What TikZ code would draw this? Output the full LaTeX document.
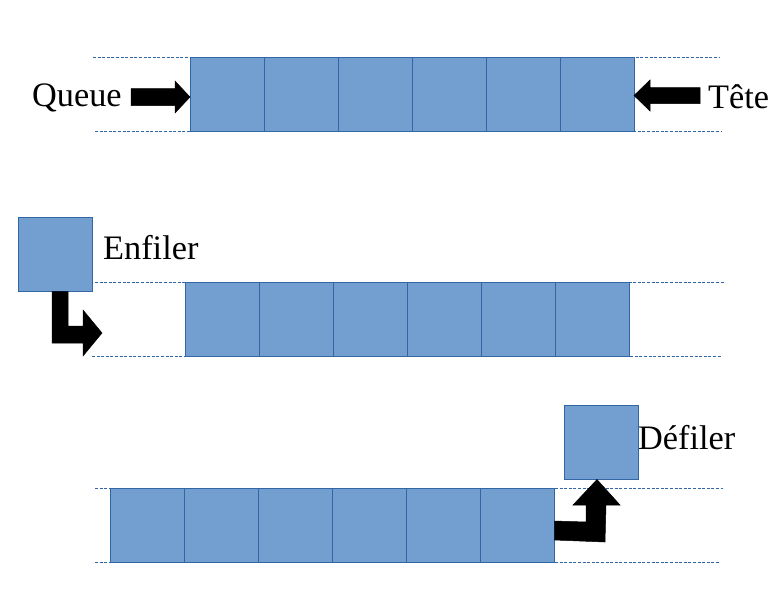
\documentclass[tikz,border=0pt]{standalone}
\usepackage{fontspec}
\setmainfont{Liberation Serif}
\definecolor{cellfill}{HTML}{729FCF}
\definecolor{celledge}{HTML}{3465A4}
\begin{document}
\begin{tikzpicture}[x=1pt,y=-1pt,
  cell/.style={draw=celledge,fill=cellfill,line width=1pt,minimum width=74pt,minimum height=74pt,inner sep=0pt,outer sep=0pt,anchor=north west},
  guide/.style={draw=celledge,line width=0.9pt,dash pattern=on 3pt off 1.6pt},
  lbl/.style={font=\fontsize{34.3}{40}\selectfont,inner sep=0pt,anchor=base west},
  blockarrow/.style={fill=black,draw=black,line width=0.5pt,line join=miter}]
\useasboundingbox (0,0) rectangle (783,598);
% row 1
\draw[guide] (93,57) -- (720,57);
\draw[guide] (95,131) -- (722,131);
\foreach \i in {0,...,5} {\node[cell] (a\i) at (190+74*\i,57) {};}
% row 2
\draw[guide] (95,282) -- (725,282);
\draw[guide] (92,356) -- (722,356);
\foreach \i in {0,...,5} {\node[cell] (b\i) at (185+74*\i,282) {};}
% row 3
\draw[guide] (95,488) -- (723,488);
\draw[guide] (95,562) -- (720,562);
\foreach \i in {0,...,5} {\node[cell] (c\i) at (110+74*\i,488) {};}
% moving cells
\node[cell] (enf) at (18,217) {};
\node[cell] (def) at (564,405) {};
% labels
\node[lbl] (queue) at (32,106) {Queue};
\node[lbl] (tete) at (708,108) {Tête};
\node[lbl] (enfiler) at (103,259) {Enfiler};
\node[lbl] (defiler) at (638,449) {Défiler};
% arrows
\fill[blockarrow] (190,97) -- (175,81) -- (175,88.5) -- (131,88.5) -- (131,105.5) -- (175,105.5) -- (175,113) -- cycle;
\fill[blockarrow] (634,95.5) -- (650,80) -- (650,87.5) -- (700,87.5) -- (700,103.5) -- (650,103.5) -- (650,111) -- cycle;
\fill[blockarrow] (52,291.5) -- (68,291.5) -- (68,326) -- (83,326) -- (83,310) -- (102,333) -- (83,356) -- (83,343) -- (52,343) -- cycle;
\fill[blockarrow] (554.5,521) -- (586,522) -- (586,505) -- (573,505) -- (597,479.5) -- (620,505) -- (606,505) -- (605,542) -- (554.5,540) -- cycle;
\end{tikzpicture}
\end{document}
